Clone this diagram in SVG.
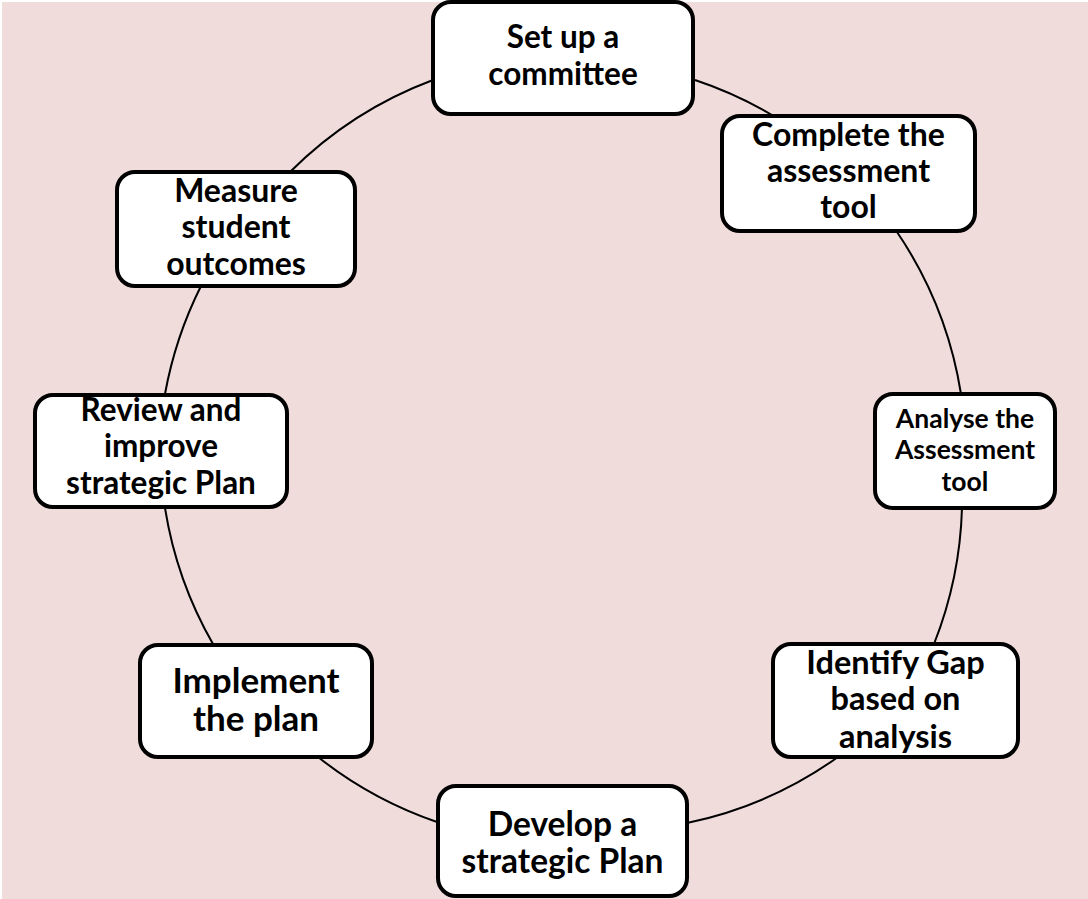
<svg xmlns="http://www.w3.org/2000/svg" width="1088" height="899" viewBox="0 0 1088 899">
<style>
.node rect{fill:#ffffff;stroke:#000000;stroke-width:4}
.node text{font-family:Lato,"Liberation Sans",Arial,sans-serif;font-weight:700;fill:#000000;text-anchor:middle}
.conn path{fill:none;stroke:#000000;stroke-width:2}
</style>
<rect x="0" y="0" width="1088" height="899" fill="#ffffff"/>
<rect x="2" y="2" width="1086" height="897" fill="#f0dcdb"/>
<g id="connectors" class="conn">
<path d="M695,80 A400,400 0 0 1 772,115"/>
<path d="M897,232 A400,400 0 0 1 961,394"/>
<path d="M962,508 A400,400 0 0 1 934,644"/>
<path d="M838,757 A400,400 0 0 1 687,823"/>
<path d="M437,822 A400,400 0 0 1 318,757"/>
<path d="M213,644 A400,400 0 0 1 165,508"/>
<path d="M165,394 A400,400 0 0 1 201,286"/>
<path d="M290,172 A400,400 0 0 1 433,80"/>
</g>
<g id="node-setup" class="node">
<rect x="433" y="2" width="260" height="112" rx="18"/>
<text x="563" y="48" font-size="31.5">Set up a</text>
<text x="563" y="85" font-size="31.5">committee</text>
</g>
<g id="node-complete" class="node">
<rect x="722" y="116" width="253" height="115" rx="18"/>
<text x="848.5" y="146" font-size="32">Complete the</text>
<text x="848.5" y="182" font-size="32">assessment</text>
<text x="848.5" y="218" font-size="32">tool</text>
</g>
<g id="node-analyse" class="node">
<rect x="875" y="394" width="180" height="114" rx="18"/>
<text x="965" y="428" font-size="26.5">Analyse the</text>
<text x="965" y="459" font-size="26.5">Assessment</text>
<text x="965" y="491" font-size="26.5">tool</text>
</g>
<g id="node-identify" class="node">
<rect x="773" y="644" width="245" height="113" rx="18"/>
<text x="895.5" y="674" font-size="32.5">Identify Gap</text>
<text x="895.5" y="710" font-size="32.5">based on</text>
<text x="895.5" y="748" font-size="32.5">analysis</text>
</g>
<g id="node-develop" class="node">
<rect x="438" y="786" width="249" height="110" rx="18"/>
<text x="562.5" y="836" font-size="33.5">Develop a</text>
<text x="562.5" y="873" font-size="33.5">strategic Plan</text>
</g>
<g id="node-implement" class="node">
<rect x="140" y="645" width="232" height="112" rx="18"/>
<text x="256" y="693" font-size="35">Implement</text>
<text x="256" y="731" font-size="35">the plan</text>
</g>
<g id="node-review" class="node">
<rect x="35" y="395" width="252" height="112" rx="18"/>
<text x="161" y="421" font-size="31.5">Review and</text>
<text x="161" y="457" font-size="31.5">improve</text>
<text x="161" y="494" font-size="31.5">strategic Plan</text>
</g>
<g id="node-measure" class="node">
<rect x="117" y="172" width="238" height="114" rx="18"/>
<text x="236" y="202" font-size="32">Measure</text>
<text x="236" y="238" font-size="32">student</text>
<text x="236" y="275" font-size="32">outcomes</text>
</g>
</svg>
